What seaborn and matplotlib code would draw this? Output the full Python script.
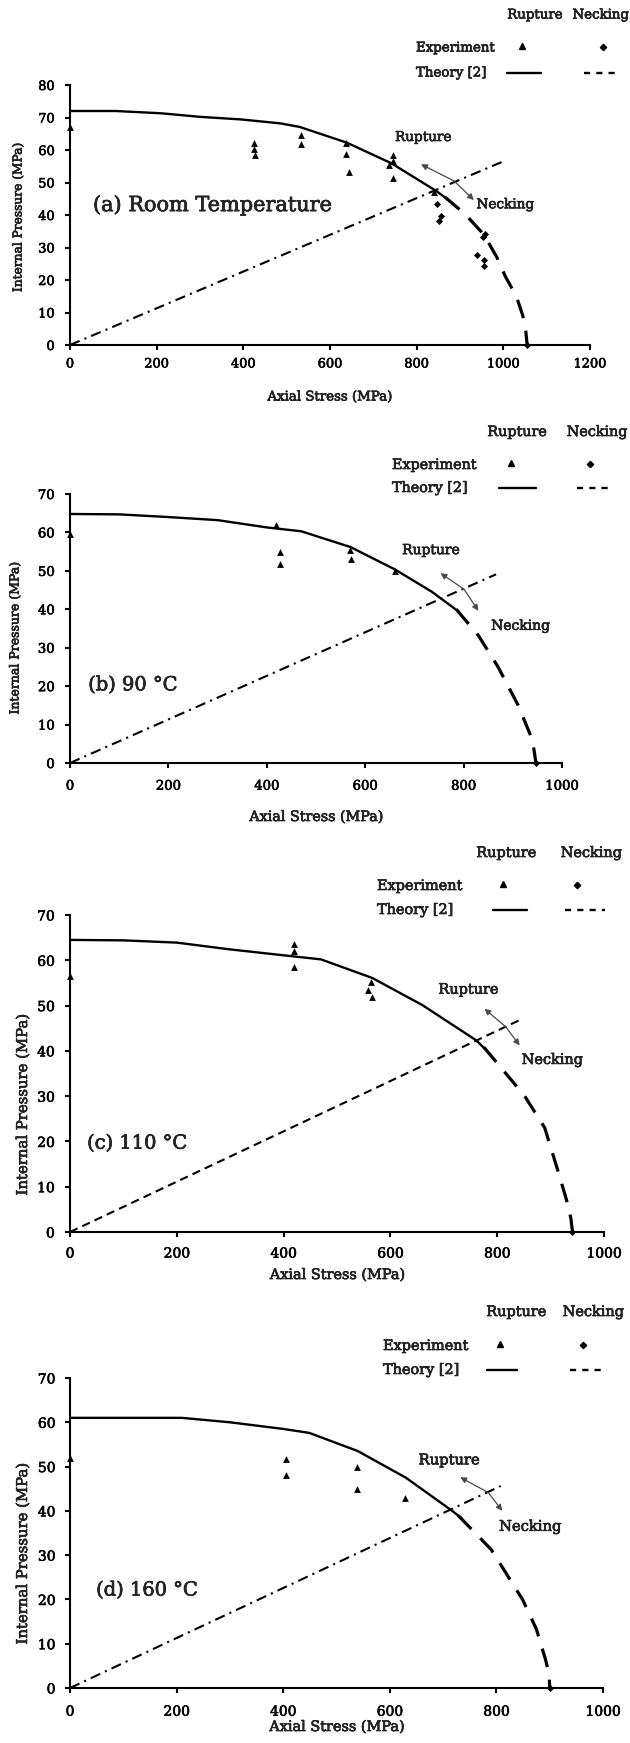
import matplotlib
matplotlib.use("Agg")
import matplotlib.pyplot as plt
import matplotlib.patheffects as pe
from matplotlib.lines import Line2D
from matplotlib.text import Text
import seaborn as sns

# ---------------- DATA ----------------
# Panel (a) Room Temperature
a_rup_x = [0, 105, 210, 300, 395, 485, 530, 638, 742, 845, 875]
a_rup_y = [72, 72, 71.3, 70.2, 69.4, 68.2, 67.1, 62.3, 55.9, 47.4, 44.5]
a_neck_x = [865, 910, 955, 985, 1005, 1030, 1045, 1052, 1055]
a_neck_y = [45.5, 40.5, 34, 27, 21, 15, 9, 4, 0]
a_path_x = [0, 1000]
a_path_y = [0, 56.5]
a_exp_rup_x = [0, 424, 424, 427, 534, 534, 638, 638, 643, 735, 745, 745, 745, 840]
a_exp_rup_y = [67, 62.2, 60.2, 58.5, 64.6, 62, 62.2, 58.7, 53.3, 55.3, 58.5, 56.6, 51.5, 47.2]
a_exp_neck_x = [847, 852, 855, 940, 952, 958, 955, 955, 1055]
a_exp_neck_y = [43.5, 38.1, 39.6, 27.8, 33.2, 34.2, 26.3, 24.2, 0]
a_arrow_x = [810, 886, 932]
a_arrow_y = [55.6, 50.5, 44.6]

# Panel (b) 90 C
b_rup_x = [0, 100, 200, 300, 400, 470, 570, 660, 735, 790]
b_rup_y = [64.8, 64.7, 64, 63.2, 61.3, 60.3, 56.2, 50.4, 44.6, 39.4]
b_neck_x = [785, 830, 870, 911, 937, 943, 947]
b_neck_y = [40, 33.2, 25, 15, 6.9, 3.5, 0]
b_path_x = [0, 866]
b_path_y = [0, 49.1]
b_exp_rup_x = [0, 418, 426, 426, 570, 572, 661]
b_exp_rup_y = [59.6, 62, 55, 51.7, 55.5, 53.2, 50]
b_exp_neck_x = [947]
b_exp_neck_y = [0]
b_arrow_x = [753, 801, 830]
b_arrow_y = [49.4, 45.2, 39.6]

# Panel (c) 110 C
c_rup_x = [0, 100, 200, 300, 400, 470, 566, 660, 761, 780]
c_rup_y = [64.5, 64.4, 63.9, 62.4, 61.1, 60.2, 56.1, 50.1, 42.3, 40.1]
c_neck_x = [775, 851, 889, 914, 930, 938, 941]
c_neck_y = [40.8, 30.1, 23, 13.4, 7, 3, 0]
c_path_x = [0, 844]
c_path_y = [0, 46.9]
c_exp_rup_x = [0, 419, 419, 419, 563, 558, 565]
c_exp_rup_y = [56.6, 63.7, 62, 58.5, 55.3, 53.5, 51.8]
c_exp_neck_x = [941]
c_exp_neck_y = [0]
c_arrow_x = [776, 816, 842]
c_arrow_y = [49.3, 45.3, 41.2]

# Panel (d) 160 C
d_rup_x = [0, 100, 210, 300, 400, 449, 540, 630, 717, 735]
d_rup_y = [61, 61, 61, 60, 58.5, 57.6, 53.5, 47.5, 40, 38.3]
d_neck_x = [728, 790, 849, 875, 892, 899, 900]
d_neck_y = [39, 31.3, 20, 13.3, 6.5, 3, 0]
d_path_x = [0, 808]
d_path_y = [0, 45.6]
d_exp_rup_x = [0, 405, 405, 538, 538, 628]
d_exp_rup_y = [52, 51.6, 48.2, 50, 44.9, 43]
d_exp_neck_x = [900]
d_exp_neck_y = [0]
d_arrow_x = [732, 785, 811]
d_arrow_y = [47.6, 44.1, 40]

# Tick labels / texts
xticks_a = [0, 200, 400, 600, 800, 1000, 1200]
yticks_a = [0, 10, 20, 30, 40, 50, 60, 70, 80]
xticks_bcd = [0, 200, 400, 600, 800, 1000]
yticks_bcd = [0, 10, 20, 30, 40, 50, 60, 70]
panel_titles = ["(a) Room Temperature", "(b) 90 \u00b0C", "(c) 110 \u00b0C", "(d) 160 \u00b0C"]
x_label = "Axial Stress (MPa)"
y_label = "Internal Pressure (MPa)"
legend_cols = ["Rupture", "Necking"]
legend_rows = ["Experiment", "Theory [2]"]
zone_labels = ["Rupture", "Necking"]

# ---------------- STYLE ----------------
sns.set_style("ticks")
plt.rcParams['font.family'] = ['DejaVu Serif']
plt.rcParams['axes.linewidth'] = 1.5
plt.rcParams['xtick.major.width'] = 1.5
plt.rcParams['ytick.major.width'] = 1.5
plt.rcParams['xtick.major.size'] = 3.5
plt.rcParams['ytick.major.size'] = 3.5
plt.rcParams['xtick.direction'] = 'out'
plt.rcParams['ytick.direction'] = 'out'
plt.rcParams['xtick.color'] = 'black'
plt.rcParams['ytick.color'] = 'black'
plt.rcParams['axes.edgecolor'] = 'black'

W, H = 630, 1743
fig = plt.figure(figsize=(W / 100, H / 100), dpi=100)


def fx(px):
    return px / W


def fy(py):
    return 1 - py / H


def add_axes(left, right, top, bottom):
    return fig.add_axes([fx(left), fy(bottom), (right - left) / W, (bottom - top) / H])


def legend(cfg, fs):
    hy, ey, ty = cfg['rows']
    fig.text(fx(cfg['rup_c']), fy(hy), legend_cols[0], ha='center', va='center', fontsize=fs)
    if cfg.get('neck_right'):
        fig.text(fx(cfg['neck_right']), fy(hy), legend_cols[1], ha='right', va='center',
                 fontsize=fs)
    else:
        fig.text(fx(cfg['neck_c']), fy(hy), legend_cols[1], ha='center', va='center',
                 fontsize=fs)
    fig.text(fx(cfg['left']), fy(ey), legend_rows[0], ha='left', va='center', fontsize=fs)
    fig.text(fx(cfg['left']), fy(ty), legend_rows[1], ha='left', va='center', fontsize=fs)
    fig.add_artist(Line2D([fx(cfg['tri'])], [fy(ey - 2)], marker='^', ms=4.5, color='black',
                          linestyle='none', transform=fig.transFigure))
    fig.add_artist(Line2D([fx(cfg['dia'])], [fy(ey - 1)], marker='D', ms=3.2, color='black',
                          linestyle='none', transform=fig.transFigure))
    s0, s1 = cfg['solid']
    d0, d1 = cfg['dash']
    fig.add_artist(Line2D([fx(s0), fx(s1)], [fy(ty), fy(ty)], color='black', lw=1.7,
                          transform=fig.transFigure))
    fig.add_artist(Line2D([fx(d0), fx(d1)], [fy(ty), fy(ty)], color='black', lw=1.7,
                          linestyle=(0, (2.6, 2.6)), transform=fig.transFigure))


def bent_arrow(ax, xs, ys):
    props = dict(arrowstyle='-|>', color='#4a4a4a', lw=0.9, mutation_scale=9,
                 shrinkA=0, shrinkB=0)
    ax.annotate('', xy=(xs[0], ys[0]), xytext=(xs[1], ys[1]), arrowprops=props)
    ax.annotate('', xy=(xs[2], ys[2]), xytext=(xs[1], ys[1]), arrowprops=props)


panels = [
    dict(box=(70, 590, 85, 345), xmax=1200, ymax=80, xt=xticks_a, yt=yticks_a,
         rup=(a_rup_x, a_rup_y), neck=(a_neck_x, a_neck_y), path=(a_path_x, a_path_y),
         path_ls=(0, (5, 2.5, 1, 2.5)),
         er=(a_exp_rup_x, a_exp_rup_y), en=(a_exp_neck_x, a_exp_neck_y),
         arrow=(a_arrow_x, a_arrow_y), title_pos=(53, 43), title_fs=15,
         rup_lab=(750, 64), neck_lab=(938, 43.3), zfs=9.8,
         tick_fs=9.3, xpad=5.5, ypad=7.5, xl_y=397, xl_fs=9.6, yl_x=18, yl_y=217, yl_fs=8.8,
         leg=dict(rows=(15, 48, 73), rup_c=535, neck_right=629, left=416, tri=522, dia=603,
                  solid=(507, 541), dash=(584, 618)), leg_fs=9.6),
    dict(box=(70, 562, 494, 763), xmax=1000, ymax=70, xt=xticks_bcd, yt=yticks_bcd,
         rup=(b_rup_x, b_rup_y), neck=(b_neck_x, b_neck_y), path=(b_path_x, b_path_y),
         path_ls=(0, (5, 2.5, 1, 2.5)),
         er=(b_exp_rup_x, b_exp_rup_y), en=(b_exp_neck_x, b_exp_neck_y),
         arrow=(b_arrow_x, b_arrow_y), title_pos=(37, 20.2), title_fs=14,
         rup_lab=(675, 55.4), neck_lab=(856, 35.7), zfs=10,
         tick_fs=9.5, xpad=8.5, ypad=7.5, xl_y=817, xl_fs=10.3, yl_x=15, yl_y=638, yl_fs=9,
         leg=dict(rows=(432, 465, 488), rup_c=517, neck_c=597, left=392, tri=511, dia=590,
                  solid=(499, 536), dash=(577, 613)), leg_fs=10.3),
    dict(box=(70, 604, 915, 1232), xmax=1000, ymax=70, xt=xticks_bcd, yt=yticks_bcd,
         rup=(c_rup_x, c_rup_y), neck=(c_neck_x, c_neck_y), path=(c_path_x, c_path_y),
         path_ls=(0, (4, 2.5)),
         er=(c_exp_rup_x, c_exp_rup_y), en=(c_exp_neck_x, c_exp_neck_y),
         arrow=(c_arrow_x, c_arrow_y), title_pos=(32, 19.5), title_fs=14,
         rup_lab=(690, 53.5), neck_lab=(846, 38), zfs=10.4,
         tick_fs=10, xpad=7, ypad=7.5, xl_y=1275, xl_fs=10.4, yl_x=23, yl_y=1104, yl_fs=10.7,
         leg=dict(rows=(853, 886, 910), rup_c=506, neck_c=591, left=377, tri=503, dia=577,
                  solid=(493, 527), dash=(565, 605)), leg_fs=10.4),
    dict(box=(70, 603, 1378, 1688), xmax=1000, ymax=70, xt=xticks_bcd, yt=yticks_bcd,
         rup=(d_rup_x, d_rup_y), neck=(d_neck_x, d_neck_y), path=(d_path_x, d_path_y),
         path_ls=(0, (5, 2.5, 1, 2.5)),
         er=(d_exp_rup_x, d_exp_rup_y), en=(d_exp_neck_x, d_exp_neck_y),
         arrow=(d_arrow_x, d_arrow_y), title_pos=(49, 22), title_fs=14,
         rup_lab=(654, 51.4), neck_lab=(805, 36.4), zfs=10.6,
         tick_fs=10, xpad=8.5, ypad=7, xl_y=1727, xl_fs=10.4, yl_x=23, yl_y=1553, yl_fs=10.7,
         leg=dict(rows=(1312, 1346, 1370), rup_c=516, neck_c=593, left=383, tri=500, dia=583,
                  solid=(487, 517), dash=(570, 607)), leg_fs=10.4),
]

for i, p in enumerate(panels):
    left, right, top, bottom = p['box']
    ax = add_axes(left, right, top, bottom)
    ax.set_facecolor('white')

    # radial loading path
    sns.lineplot(x=p['path'][0], y=p['path'][1], ax=ax, color='black', lw=1.5,
                 linestyle=p['path_ls'], sort=False, estimator=None, legend=False)
    # theory: rupture (solid) and necking (dashed)
    sns.lineplot(x=p['rup'][0], y=p['rup'][1], ax=ax, color='black', lw=1.7,
                 sort=False, estimator=None, legend=False)
    sns.lineplot(x=p['neck'][0], y=p['neck'][1], ax=ax, color='black', lw=2.3,
                 linestyle=(0, (6, 4)), sort=False, estimator=None, legend=False)
    # experiments
    sns.scatterplot(x=p['er'][0], y=p['er'][1], ax=ax, marker='^', color='black', s=24,
                    linewidth=0, clip_on=False, zorder=5, legend=False)
    sns.scatterplot(x=p['en'][0], y=p['en'][1], ax=ax, marker='D', color='black', s=13,
                    linewidth=0, clip_on=False, zorder=5, legend=False)

    bent_arrow(ax, *p['arrow'])
    ax.text(p['rup_lab'][0], p['rup_lab'][1], zone_labels[0], ha='left', va='center',
            fontsize=p['zfs'])
    ax.text(p['neck_lab'][0], p['neck_lab'][1], zone_labels[1], ha='left', va='center',
            fontsize=p['zfs'])
    ax.text(p['title_pos'][0], p['title_pos'][1], panel_titles[i], ha='left', va='center',
            fontsize=p['title_fs'])

    ax.set_xlim(0, p['xmax'])
    ax.set_ylim(0, p['ymax'])
    ax.set_xticks(p['xt'])
    ax.set_yticks(p['yt'])
    ax.tick_params(axis='x', labelsize=p['tick_fs'], pad=p['xpad'])
    ax.tick_params(axis='y', labelsize=p['tick_fs'], pad=p['ypad'])
    sns.despine(ax=ax)

    ax.set_xlabel(x_label, fontsize=p['xl_fs'], va='center')
    ax.xaxis.set_label_coords(0.5, (bottom - p['xl_y']) / (bottom - top))
    ax.set_ylabel(y_label, fontsize=p['yl_fs'], va='center')
    ax.yaxis.set_label_coords((p['yl_x'] - left) / (right - left),
                              (bottom - p['yl_y']) / (bottom - top))

    legend(p['leg'], p['leg_fs'])

# slightly heavier glyphs, like the blurred reference scan
fig.canvas.draw()
for t in fig.findobj(Text):
    if t.get_text():
        t.set_path_effects([pe.withStroke(linewidth=0.45, foreground='black')])

fig.savefig("out.png", dpi=100, facecolor='white')
